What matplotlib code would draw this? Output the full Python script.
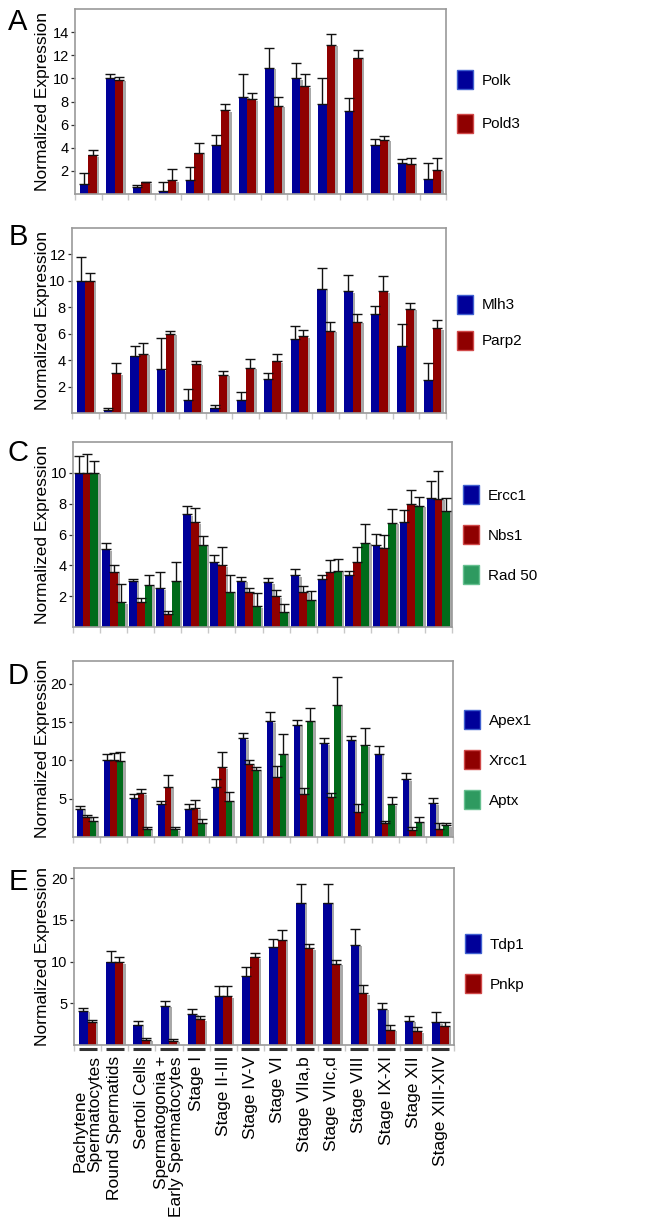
import numpy as np
import matplotlib
matplotlib.use("Agg")
import matplotlib.pyplot as plt
import matplotlib.transforms as mtransforms
from matplotlib.patches import Patch

plt.rcParams['font.family'] = ['Liberation Sans', 'DejaVu Sans']

## DATA ##
categories = ["Pachytene\nSpermatocytes", "Round Spermatids", "Sertoli Cells",
              "Spermatogonia +\nEarly Spermatocytes", "Stage I", "Stage II-III",
              "Stage IV-V", "Stage VI", "Stage VIIa,b", "Stage VIIc,d",
              "Stage VIII", "Stage IX-XI", "Stage XII", "Stage XIII-XIV"]

# A
polk = [0.9, 10.0, 0.6, 0.25, 1.2, 4.2, 8.4, 10.9, 10.0, 7.8, 7.2, 4.2, 2.7, 1.3]
polk_err = [0.95, 0.4, 0.2, 0.75, 1.1, 0.9, 2.0, 1.7, 1.3, 2.2, 1.1, 0.6, 0.3, 1.4]
pold3 = [3.35, 9.9, 1.0, 1.2, 3.55, 7.25, 8.2, 7.65, 9.3, 12.9, 11.8, 4.7, 2.6, 2.1]
pold3_err = [0.45, 0.2, 0.05, 0.95, 0.9, 0.55, 0.55, 0.75, 1.1, 0.95, 0.65, 0.35, 0.5, 1.05]

# B
mlh3 = [10.0, 0.25, 4.3, 3.3, 1.0, 0.4, 1.0, 2.6, 5.6, 9.4, 9.2, 7.5, 5.1, 2.5]
mlh3_err = [1.8, 0.15, 0.8, 2.4, 0.8, 0.2, 0.6, 0.4, 0.95, 1.55, 1.25, 0.6, 1.6, 1.3]
parp2 = [10.0, 3.0, 4.5, 6.0, 3.7, 2.9, 3.4, 3.9, 5.8, 6.2, 6.9, 9.2, 7.9, 6.4]
parp2_err = [0.6, 0.8, 0.8, 0.2, 0.25, 0.25, 0.7, 0.55, 0.45, 0.65, 0.6, 1.2, 0.4, 0.65]

# C
ercc1 = [10.0, 5.05, 3.0, 2.5, 7.3, 4.2, 3.0, 2.9, 3.35, 3.1, 3.35, 5.3, 6.8, 8.4]
ercc1_err = [1.1, 0.4, 0.12, 1.1, 0.55, 0.5, 0.25, 0.25, 0.4, 0.3, 0.3, 0.75, 0.8, 1.1]
nbs1 = [10.0, 3.6, 1.6, 0.85, 6.8, 4.0, 2.3, 2.0, 2.3, 3.55, 4.2, 5.15, 8.0, 8.3]
nbs1_err = [1.2, 0.45, 0.3, 0.2, 0.9, 1.2, 0.25, 0.4, 0.35, 0.8, 1.0, 0.85, 0.9, 1.8]
rad50 = [10.0, 1.6, 2.75, 3.0, 5.35, 2.3, 1.35, 1.0, 1.75, 3.65, 5.45, 6.75, 7.85, 7.55]
rad50_err = [0.8, 1.2, 0.65, 1.2, 0.55, 1.05, 0.85, 0.5, 0.6, 0.75, 1.2, 0.9, 0.6, 0.85]

# D
apex1 = [3.7, 10.0, 5.1, 4.3, 3.7, 6.5, 12.9, 15.1, 14.65, 12.25, 12.7, 10.9, 7.55, 4.4]
apex1_err = [0.3, 0.85, 0.5, 0.4, 0.65, 1.1, 0.7, 1.3, 0.6, 0.75, 0.55, 0.95, 0.75, 0.75]
xrcc1 = [2.6, 10.0, 5.7, 6.55, 3.75, 9.1, 9.55, 7.8, 5.6, 5.25, 3.3, 1.85, 0.9, 1.05]
xrcc1_err = [0.3, 0.95, 0.6, 1.6, 1.1, 2.0, 0.55, 1.5, 0.75, 0.55, 0.95, 0.3, 0.45, 0.8]
aptx = [2.15, 9.95, 1.1, 1.0, 1.85, 4.75, 8.75, 10.9, 15.2, 17.3, 12.0, 4.25, 2.0, 1.55]
aptx_err = [0.5, 1.1, 0.25, 0.35, 0.45, 1.1, 0.35, 2.5, 1.7, 3.6, 2.2, 1.0, 0.65, 0.3]

# E
tdp1 = [4.1, 10.0, 2.4, 4.7, 3.7, 5.9, 8.3, 11.7, 17.0, 17.0, 12.0, 4.3, 2.9, 2.7]
tdp1_err = [0.35, 1.3, 0.5, 0.55, 0.65, 1.2, 1.0, 1.0, 2.3, 2.3, 1.85, 0.75, 0.6, 1.2]
pnkp = [2.75, 9.9, 0.6, 0.5, 3.1, 5.85, 10.5, 12.6, 11.6, 9.7, 6.2, 1.85, 1.65, 2.3]
pnkp_err = [0.3, 0.6, 0.2, 0.25, 0.4, 1.25, 0.5, 1.15, 0.45, 0.45, 1.0, 0.55, 0.45, 0.4]

BLUE, RED, GREEN = "#000099", "#8f0000", "#006b1a"
LEG = {BLUE: ("#000099", "#4060d0"), RED: ("#8f0000", "#d04848"), GREEN: ("#2e9a60", "#66c090")}

W, H = 670.0, 1220.0
fig = plt.figure(figsize=(6.7, 12.2), dpi=100)
x = np.arange(len(categories))


def panel(box, letter, series, errs, names, colors, ylim, yticks, width,
          leg_y, leg_space, letter_y, last=False):
    l, r, t, b = box
    ax = fig.add_axes([l / W, 1 - b / H, (r - l) / W, (b - t) / H])
    shadow = ax.transData + mtransforms.ScaledTranslation(1.8 / 72, -1.0 / 72, fig.dpi_scale_trans)
    n = len(series)
    for k in range(n):
        pos = x + (k - (n - 1) / 2.0) * width
        ax.bar(pos, series[k], width, color="#a8a8a8", transform=shadow, zorder=1)
    for k in range(n):
        pos = x + (k - (n - 1) / 2.0) * width
        ax.bar(pos, series[k], width, color=colors[k], zorder=2)
        ax.errorbar(pos, series[k], yerr=[np.zeros(len(x)), errs[k]], fmt="none",
                    ecolor="#111111", elinewidth=1.0, capsize=3.5, capthick=1.0, zorder=3)
    ax.set_xlim(-0.5, len(x) - 0.5)
    ax.set_ylim(*ylim)
    ax.set_yticks(yticks)
    ax.tick_params(axis="y", labelsize=10.5, length=3, width=0.9, color="#333333", pad=1.5)
    for s in ax.spines.values():
        s.set_color("#9a9a9a")
        s.set_linewidth(1.2)
    ax.set_xticks(np.arange(-0.5, len(x), 1.0), minor=True)
    ax.tick_params(axis="x", which="minor", length=4, width=1, color="#c8c8c8")
    ax.set_ylabel("Normalized Expression", fontsize=12.5)
    ax.yaxis.set_label_coords((50 - l) / (r - l), 0.5)
    handles = [Patch(facecolor=LEG[c][0], edgecolor=LEG[c][1], linewidth=1) for c in colors]
    ax.legend(handles, names, loc="center left", bbox_to_anchor=(1.03, leg_y),
              frameon=False, fontsize=11, handlelength=1.05, handleheight=1.5,
              handletextpad=0.55, labelspacing=leg_space, borderaxespad=0, borderpad=0)
    fig.text(18 / W, 1 - letter_y / H, letter, fontsize=21, ha="center", va="center")
    if last:
        ax.set_xticks(x)
        labels = ax.set_xticklabels(categories, rotation=90, fontsize=12.5, linespacing=0.95)
        labels[0].set_multialignment("left")
        labels[3].set_multialignment("right")
        ax.tick_params(axis="x", which="major", length=0, pad=8)
        trans = mtransforms.blended_transform_factory(ax.transData, ax.transAxes)
        ax.hlines(np.full(len(x), -0.02), x - 0.33, x + 0.33, colors="#333333",
                  linewidth=2.2, transform=trans, clip_on=False)
    else:
        ax.set_xticks([])
    return ax


panel((75, 446, 9, 194), "A", [polk, pold3], [polk_err, pold3_err], ["Polk", "Pold3"],
      [BLUE, RED], (0, 16), [2, 4, 6, 8, 10, 12, 14], 0.33, 0.5, 1.65, 22)
panel((72, 446, 228, 413), "B", [mlh3, parp2], [mlh3_err, parp2_err], ["Mlh3", "Parp2"],
      [BLUE, RED], (0, 14), [2, 4, 6, 8, 10, 12], 0.32, 0.49, 1.15, 237)
panel((73, 452, 442, 627), "C", [ercc1, nbs1, rad50], [ercc1_err, nbs1_err, rad50_err],
      ["Ercc1", "Nbs1", "Rad 50"], [BLUE, RED, GREEN], (0, 12), [2, 4, 6, 8, 10],
      0.29, 0.5, 1.4, 453)
panel((73, 453, 661, 837), "D", [apex1, xrcc1, aptx], [apex1_err, xrcc1_err, aptx_err],
      ["Apex1", "Xrcc1", "Aptx"], [BLUE, RED, GREEN], (0, 23), [5, 10, 15, 20],
      0.24, 0.44, 1.4, 676)
panel((74, 454, 868, 1045), "E", [tdp1, pnkp], [tdp1_err, pnkp_err], ["Tdp1", "Pnkp"],
      [BLUE, RED], (0, 21.2), [5, 10, 15, 20], 0.31, 0.46, 1.4, 882, last=True)

fig.savefig("out.png", dpi=100)
